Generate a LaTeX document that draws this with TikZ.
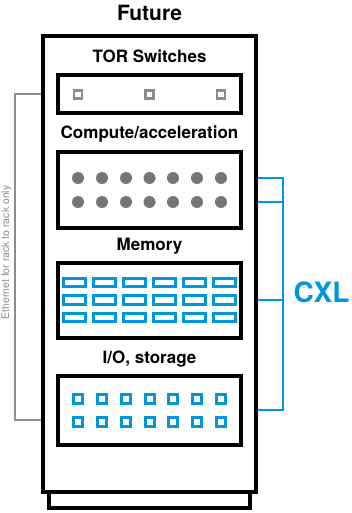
\documentclass[tikz,border=0pt]{standalone}
\usepackage{fontspec}
\setmainfont{TeX Gyre Heros}
\definecolor{cxlblue}{RGB}{0,150,219}
\definecolor{ethgray}{RGB}{140,140,140}
\definecolor{dotgray}{RGB}{118,118,118}
\tikzset{
  title/.style={anchor=base, font=\bfseries\fontsize{21}{21}\selectfont},
  section/.style={anchor=base, font=\bfseries\fontsize{17}{17}\selectfont},
  shelf/.style={draw, line width=3.2pt, minimum width=183pt, inner sep=0pt},
  ethline/.style={draw=ethgray, line width=2.7pt},
  cxlline/.style={draw=cxlblue, line width=2.8pt}
}
\begin{document}
\begin{tikzpicture}[x=1pt, y=-1pt]
      \useasboundingbox (0,0) rectangle (351,513);

      % rack and its foot
      \node[draw, line width=3.2pt, minimum width=201pt, minimum height=16pt] (foot) at (149.5,500) {};
      \node[draw, fill=white, line width=3.2pt, minimum width=213pt, minimum height=456pt] (rack) at (149.5,264) {};

      \node[title] (future) at (149.5,21) {Future};

      \node[section] (torlabel)  at (149.5,63)  {TOR Switches};
      \node[section] (complabel) at (149.5,139) {Compute/acceleration};
      \node[section] (memlabel)  at (149.5,250) {Memory};
      \node[section] (iolabel)   at (149.5,363) {I/O, storage};

      \node[shelf, minimum height=38pt] (tor)  at (149.5,94)    {};
      \node[shelf, minimum height=76pt] (comp) at (149.5,190)   {};
      \node[shelf, minimum height=75pt] (mem)  at (149.5,300.5) {};
      \node[shelf, minimum height=69pt] (io)   at (149.5,410.5) {};

      \begin{scope}[every node/.style={draw=ethgray, line width=2.6pt, minimum size=8pt, inner sep=0pt}]
        \node (s1) at (78,94.5)    {};
        \node (s2) at (149.5,94.5) {};
        \node (s3) at (221,94.5)   {};
      \end{scope}

      \begin{scope}[every node/.style={circle, fill=dotgray, minimum size=12pt, inner sep=0pt}]
        \node (c11) at (78,178)    {};
        \node (c12) at (102,178)   {};
        \node (c13) at (126,178)   {};
        \node (c14) at (149.5,178) {};
        \node (c15) at (173,178)   {};
        \node (c16) at (197,178)   {};
        \node (c17) at (221,178)   {};
        \node (c21) at (78,202)    {};
        \node (c22) at (102,202)   {};
        \node (c23) at (126,202)   {};
        \node (c24) at (149.5,202) {};
        \node (c25) at (173,202)   {};
        \node (c26) at (197,202)   {};
        \node (c27) at (221,202)   {};
      \end{scope}

      \begin{scope}[every node/.style={draw=cxlblue, line width=2.8pt, minimum width=21.5pt, minimum height=8.5pt, inner sep=0pt}]
        \node (m11) at (74.5,282.5)  {};
        \node (m12) at (104.5,282.5) {};
        \node (m13) at (134.5,282.5) {};
        \node (m14) at (164.5,282.5) {};
        \node (m15) at (194.5,282.5) {};
        \node (m16) at (224.5,282.5) {};
        \node (m21) at (74.5,300)    {};
        \node (m22) at (104.5,300)   {};
        \node (m23) at (134.5,300)   {};
        \node (m24) at (164.5,300)   {};
        \node (m25) at (194.5,300)   {};
        \node (m26) at (224.5,300)   {};
        \node (m31) at (74.5,317.5)  {};
        \node (m32) at (104.5,317.5) {};
        \node (m33) at (134.5,317.5) {};
        \node (m34) at (164.5,317.5) {};
        \node (m35) at (194.5,317.5) {};
        \node (m36) at (224.5,317.5) {};
      \end{scope}

      \begin{scope}[every node/.style={draw=cxlblue, line width=3pt, minimum size=9pt, inner sep=0pt}]
        \node (d11) at (78,399)    {};
        \node (d12) at (102,399)   {};
        \node (d13) at (126,399)   {};
        \node (d14) at (149.5,399) {};
        \node (d15) at (173,399)   {};
        \node (d16) at (197,399)   {};
        \node (d17) at (221,399)   {};
        \node (d21) at (78,422)    {};
        \node (d22) at (102,422)   {};
        \node (d23) at (126,422)   {};
        \node (d24) at (149.5,422) {};
        \node (d25) at (173,422)   {};
        \node (d26) at (197,422)   {};
        \node (d27) at (221,422)   {};
      \end{scope}

      % ethernet, rack to rack
      \coordinate (ethtop) at (15,94);
      \coordinate (ethbot) at (15,420);
      \path[ethline] (rack.west |- ethtop) -- (ethtop) -- (ethbot) -- (rack.west |- ethbot);
      \node[rotate=90, text=ethgray, font=\fontsize{10.5}{10.5}\selectfont] (ethlabel) at (6.5,252.5) {Ethernet for rack to rack only};

      % CXL bracket
      \coordinate (cxltop) at (283,178);
      \coordinate (cxlbot) at (283,410);
      \path[cxlline] (rack.east |- cxltop) -- (cxltop) -- (cxlbot) -- (rack.east |- cxlbot);
      \path[cxlline] (rack.east |- c27) -- (cxltop |- c27);
      \path[cxlline] (rack.east |- m26) -- (cxltop |- m26);
      \node[anchor=base, text=cxlblue, font=\bfseries\fontsize{28}{28}\selectfont] (cxl) at (321.5,302) {CXL};

\end{tikzpicture}
\end{document}
